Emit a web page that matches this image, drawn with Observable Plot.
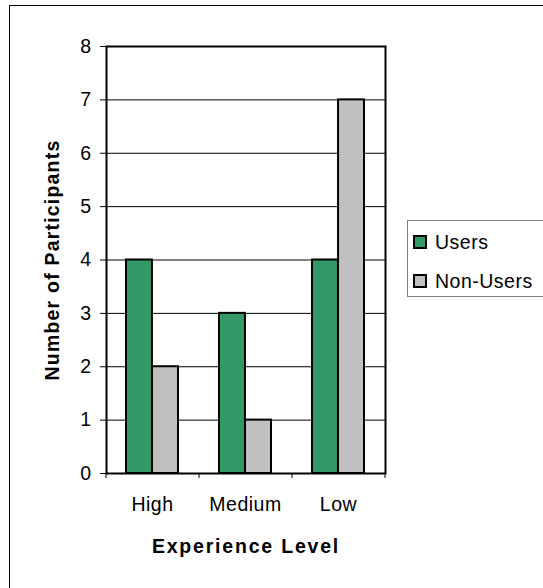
<!DOCTYPE html>
<html>
<head>
<meta charset="utf-8">
<script src="https://cdn.jsdelivr.net/npm/d3@7"></script>
<script src="https://cdn.jsdelivr.net/npm/@observablehq/plot@0.6"></script>
<style>
  html, body { margin: 0; padding: 0; background: #fff; overflow: hidden; }
  #wrap { position: relative; width: 543px; height: 588px; overflow: hidden;
          font-family: "Liberation Sans", Arial, sans-serif; }
  #chart { position: absolute; left: 0; top: 0; }
  #border { position: absolute; left: 9px; top: 5px; width: 640px; height: 680px;
            border: 1.5px solid #000; box-sizing: border-box; pointer-events: none; }
  #legend { position: absolute; left: 407px; top: 220px; width: 220px; height: 77px;
            border: 1px solid #808080; background: #fff; box-sizing: border-box; }
  .item { position: absolute; left: 5px; height: 22px; display: flex; align-items: center;
          font-size: 19.5px; letter-spacing: 0.5px; color: #000; white-space: nowrap; }
  .swatch { width: 10px; height: 10px; border: 2px solid #000; margin-right: 8px; }
</style>
</head>
<body>
<div id="wrap">
  <div id="chart"></div>
  <div id="legend"></div>
  <div id="border"></div>
</div>
<script>
// Participants by experience level, split into users and non-users
const levels = ["High", "Medium", "Low"];
const users = [4, 3, 4];
const nonUsers = [2, 1, 7];
const yTicks = [0, 1, 2, 3, 4, 5, 6, 7, 8];
const seriesNames = ["Users", "Non-Users"];
const seriesColors = ["#339966", "#C0C0C0"];

// Layout
const W = 543, H = 588;
const mL = 106, mR = 158, mT = 46, mB = 115;
const padInner = 0.44, padOuter = 0.22;
const plotW = W - mL - mR, plotH = H - mT - mB;
const step = plotW / (levels.length - padInner + 2 * padOuter);
const half = step * (1 - padInner) / 2;

const userRows = levels.map((level, i) => ({level, value: users[i]}));
const nonUserRows = levels.map((level, i) => ({level, value: nonUsers[i]}));

const chart = Plot.plot({
  width: W,
  height: H,
  marginLeft: mL,
  marginRight: mR,
  marginTop: mT,
  marginBottom: mB,
  style: {fontFamily: "'Liberation Sans', Arial, sans-serif", fontSize: "19.5px", color: "#000", background: "transparent"},
  x: {domain: levels, paddingInner: padInner, paddingOuter: padOuter, align: 0.5,
      tickSize: 0, tickPadding: 24, label: null},
  y: {domain: [0, 8], ticks: yTicks.length - 1, tickSize: 6, tickPadding: 9, label: null},
  marks: [
    // horizontal gridlines
    Plot.ruleY(yTicks, {stroke: "#000", strokeWidth: 1}),
    // bars for each series, each taking one half of the category band
    Plot.barY(userRows, {x: "level", y: "value", fill: seriesColors[0], stroke: "#000",
                         strokeWidth: 2, insetRight: half}),
    Plot.barY(nonUserRows, {x: "level", y: "value", fill: seriesColors[1], stroke: "#000",
                            strokeWidth: 2, insetLeft: half}),
    // category boundary ticks under the axis
    Plot.ruleX(levels, {x: d => d, dx: -step / 2, insetTop: plotH, insetBottom: -5,
                        stroke: "#000", strokeWidth: 1}),
    Plot.ruleX(levels.slice(-1), {x: d => d, dx: step / 2, insetTop: plotH, insetBottom: -5,
                                  stroke: "#000", strokeWidth: 1}),
    Plot.frame({stroke: "#000", strokeWidth: 2}),
    // axis titles
    Plot.text(["Experience Level"], {frameAnchor: "bottom", dy: 79, text: d => d, textAnchor: "middle",
                                     fontWeight: "bold", fontSize: 19.5, fill: "#000"}),
    Plot.text(["Number of Participants"], {frameAnchor: "left", dx: -54, rotate: -90, text: d => d,
                                           textAnchor: "middle", fontWeight: "bold", fontSize: 19.5, fill: "#000"})
  ]
});

document.getElementById("chart").appendChild(chart);

// letter spacing for tick labels and titles
const svg = d3.select(chart);
svg.selectAll("text").style("letter-spacing", "0.5px");
svg.selectAll("g[font-weight='bold'] text")
  .style("letter-spacing", (d, i, nodes) => nodes[i].getAttribute("transform") && nodes[i].getAttribute("transform").includes("rotate") ? "1.2px" : "1.8px");

// legend
const legend = d3.select("#legend");
seriesNames.forEach((name, i) => {
  const item = legend.append("div").attr("class", "item").style("top", (10 + i * 39) + "px");
  item.append("div").attr("class", "swatch").style("background", seriesColors[i]);
  item.append("span").text(name);
});
</script>
</body>
</html>
